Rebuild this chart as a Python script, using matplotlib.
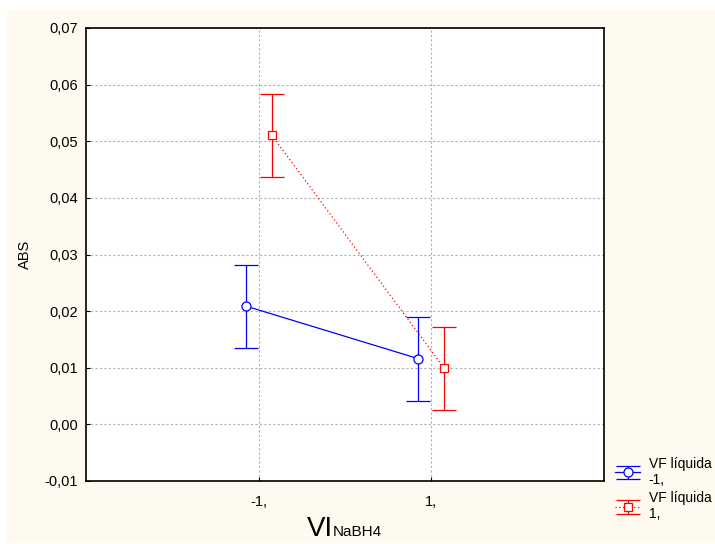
import matplotlib.pyplot as plt
from matplotlib.patches import Rectangle

# levels of VI NaBH4 and group offset
levels = [-1, 1]
offset = 0.15

# VF liquida -1
blue_mean = [0.0209, 0.0116]
blue_lo = [0.0135, 0.0041]
blue_hi = [0.0282, 0.0189]

# VF liquida 1
red_mean = [0.0511, 0.0099]
red_lo = [0.0436, 0.0025]
red_hi = [0.0584, 0.0172]

yticks = [-0.01, 0.0, 0.01, 0.02, 0.03, 0.04, 0.05, 0.06, 0.07]
ytick_labels = ['-0,01', '0,00', '0,01', '0,02', '0,03', '0,04', '0,05', '0,06', '0,07']
xtick_labels = ['-1,', '1,']

plt.rcParams['font.family'] = ['Liberation Sans', 'DejaVu Sans']

fig = plt.figure(figsize=(7.15, 5.44), dpi=100)
fig.patches.append(Rectangle((7/715, 1/544), 1, 1 - 11/544, transform=fig.transFigure,
                             facecolor='#fffaf0', edgecolor='none', zorder=-10))

ax = fig.add_axes([86/715, 1 - 481/544, 518/715, 453/544])
ax.set_facecolor('white')

xb = [x - offset for x in levels]
xr = [x + offset for x in levels]

ax.errorbar(xb, blue_mean,
            yerr=[[m - l for m, l in zip(blue_mean, blue_lo)],
                  [h - m for m, h in zip(blue_mean, blue_hi)]],
            color='#0000ff', lw=0.9, elinewidth=0.9, capsize=8.5, capthick=0.9,
            marker='o', ms=6.5, mfc='white', mec='#0000ff', mew=0.9,
            label='VF líquida\n-1,', zorder=3)
ax.errorbar(xr, red_mean,
            yerr=[[m - l for m, l in zip(red_mean, red_lo)],
                  [h - m for m, h in zip(red_mean, red_hi)]],
            color='#ff0000', lw=0.9, ls=(0, (1, 2)), elinewidth=0.9, capsize=8.5, capthick=0.9,
            marker='s', ms=6, mfc='white', mec='#ff0000', mew=0.9,
            label='VF líquida\n1,', zorder=3)

ax.set_xlim(-3, 3)
ax.set_ylim(-0.01, 0.07)
ax.set_xticks(levels)
ax.set_xticklabels(xtick_labels)
ax.set_yticks(yticks)
ax.set_yticklabels(ytick_labels)
ax.tick_params(direction='in', length=3, width=0.8, labelsize=10.5)
ax.tick_params(axis='x', pad=10)
ax.tick_params(axis='y', pad=6)
ax.grid(True, color='#b0b0b0', ls=(0, (2, 2)), lw=0.8)
ax.set_axisbelow(True)
for s in ax.spines.values():
    s.set_linewidth(1.2)

ax.set_ylabel('ABS', fontsize=10.5)
ax.yaxis.set_label_coords(-0.104, 0.5)

# x label: "VI" with "NaBH4" on the same baseline
ylab = (481 - 536) / 453
ax.text(0.477, ylab, 'VI', fontsize=20, ha='right', va='baseline', transform=ax.transAxes)
ax.text(0.477, ylab, 'NaBH4', fontsize=11, ha='left', va='baseline', transform=ax.transAxes)

ax.legend(loc='upper left', bbox_to_anchor=(1.006, 0.072), frameon=False, borderaxespad=0.3,
          borderpad=0.3, fontsize=10, handlelength=1.8, handletextpad=0.6, labelspacing=0.3)

fig.savefig('out.png', dpi=100)
